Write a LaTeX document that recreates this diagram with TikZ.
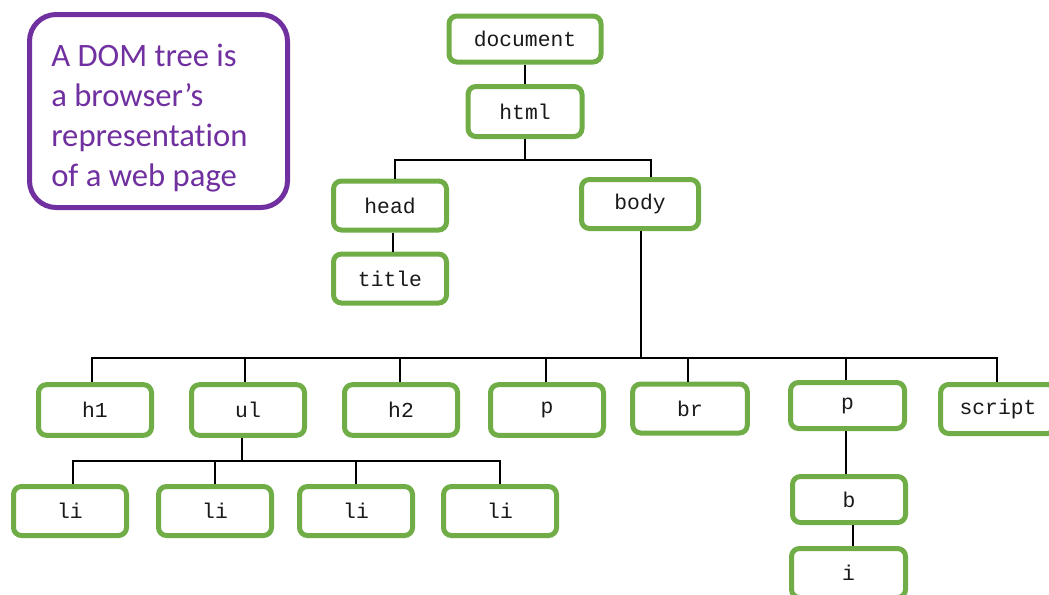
\documentclass[tikz,border=0pt]{standalone}
\usepackage{fontspec}
\setmainfont{Liberation Mono}
\newfontfamily\notefont[Ligatures=NoCommon]{Carlito}
\definecolor{nodegreen}{HTML}{70AD47}
\definecolor{notepurple}{HTML}{7030A0}
\begin{document}
\begin{tikzpicture}[x=0.75pt,y=-0.75pt,
  tag/.style={draw=nodegreen, line width=3.75pt, rounded corners=6pt, fill=white,
    minimum width=84.75pt, minimum height=36.75pt, inner sep=0pt,
    font=\fontsize{16}{18}\selectfont, text=black!90},
  link/.style={draw=black, line width=1.1pt},
  note/.style={draw=notepurple, line width=3.75pt, rounded corners=20pt,
    minimum width=193.5pt, minimum height=144.75pt, inner sep=0pt}]
\useasboundingbox (0,0) rectangle (1049,594);

% caption box
\node[note] (note) at (158.5,111) {};
\node[anchor=west, align=left, inner sep=0pt, text=notepurple,
  font=\notefont\fontsize{24.5}{30}\selectfont] (notetext) at (51,118)
  {A DOM tree is\\a browser’s\\representation\\of a web page};

% tree nodes
\node[tag, minimum width=114pt, minimum height=34.5pt] (document) at (525,39) {document};
\node[tag, minimum width=85.5pt, minimum height=37.5pt] (html) at (525,111.5) {html};
\node[tag] (head) at (390,205.5) {head};
\node[tag, minimum width=87.75pt] (body) at (640,204) {body};
\node[tag] (title) at (390,278.5) {title};

\node[tag, minimum height=38pt] (h1) at (95,410) {h1};
\node[tag, minimum height=38pt] (ul) at (248,410) {ul};
\node[tag, minimum height=38pt] (h2) at (401,410) {h2};
\node[tag, minimum height=38pt] (p) at (547,410) {p};
\node[tag, minimum width=86pt] (br) at (690,408.5) {br};
\node[tag, minimum width=85.5pt, minimum height=34.5pt] (p2) at (847.5,405.5) {p};
\node[tag, minimum width=86pt] (script) at (998,409) {script};

\node[tag] (li1) at (70,511) {li};
\node[tag] (li2) at (215,511) {li};
\node[tag] (li3) at (356,511) {li};
\node[tag] (li4) at (500,511) {li};

\node[tag, minimum height=34.5pt] (b) at (849,499.5) {b};
\node[tag, minimum width=85.5pt] (i) at (848.5,573) {i};

% junction points of the branch lines
\coordinate (busTop) at (525,160);
\coordinate (busBody) at (641,358);
\coordinate (busList) at (242,461);

% connectors
\draw[link] (document.south) -- (html.north);
\draw[link] (html.south) -- (busTop);
\draw[link] ([xshift=3.75pt]head.north) |- (busTop) -| ([xshift=8.25pt]body.north);
\draw[link] ([xshift=2.25pt]head.south) -- ([xshift=2.25pt]title.north);

\draw[link] ([xshift=0.75pt]body.south) -- (busBody);
\draw[link] ([xshift=-2.25pt]h1.north) |- (busBody) -| ([xshift=-0.75pt]script.north);
\foreach \n/\dx in {ul/-2.25pt, h2/-0.75pt, p/-0.75pt, br/-1.5pt, p2/-1pt}
  \draw[link] ([xshift=\dx]\n.north) -- ([xshift=\dx]\n.north |- busBody);

\draw[link] ([xshift=-4.5pt]ul.south) -- (busList);
\draw[link] ([xshift=2.25pt]li1.north) |- (busList) -| (li4.north);
\foreach \n in {li2, li3}
  \draw[link] (\n.north) -- (\n.north |- busList);

\draw[link] ([xshift=-1.1pt]p2.south) -- ([xshift=-1.1pt]p2.south |- b.north);
\draw[link] ([xshift=3pt]b.south) -- ([xshift=3pt]b.south |- i.north);
\end{tikzpicture}
\end{document}
